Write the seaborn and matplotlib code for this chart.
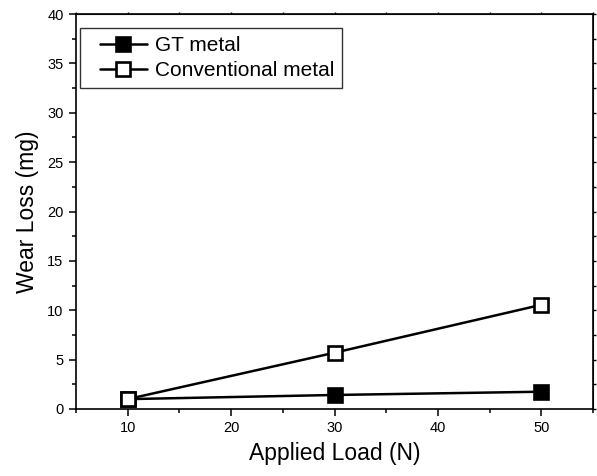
import matplotlib
matplotlib.use("Agg")
import matplotlib.pyplot as plt
import seaborn as sns
import pandas as pd
from matplotlib.lines import Line2D
from matplotlib.legend_handler import HandlerLine2D
from matplotlib.ticker import MultipleLocator

# ---- data ----
loads = [10, 30, 50]
gt_metal = [1.0, 1.42, 1.75]
conventional_metal = [1.0, 5.7, 10.55]
series_names = ["GT metal", "Conventional metal"]

sns.set_style("ticks")
plt.rcParams['font.family'] = ['Liberation Sans', 'DejaVu Sans']
plt.rcParams['text.color'] = 'black'
plt.rcParams['axes.labelcolor'] = 'black'
plt.rcParams['xtick.color'] = 'black'
plt.rcParams['ytick.color'] = 'black'

fig = plt.figure(figsize=(5.97, 4.76), dpi=100)
ax = fig.add_axes([76/597, 1 - 409/476, (593-76)/597, (409-14)/476])

df_gt = pd.DataFrame({"load": loads, "wear": gt_metal})
df_cv = pd.DataFrame({"load": loads, "wear": conventional_metal})

common = dict(marker="s", color="black", linewidth=1.8, markersize=10,
              markeredgecolor="black", markeredgewidth=1.9, ax=ax)
sns.lineplot(data=df_gt, x="load", y="wear", markerfacecolor="black",
             label=series_names[0], zorder=3, **common)
sns.lineplot(data=df_cv, x="load", y="wear", markerfacecolor="white",
             label=series_names[1], zorder=4, **common)

ax.set_xlim(5, 55)
ax.set_ylim(0, 40)
ax.xaxis.set_major_locator(MultipleLocator(10))
ax.xaxis.set_minor_locator(MultipleLocator(5))
ax.yaxis.set_major_locator(MultipleLocator(5))
ax.yaxis.set_minor_locator(MultipleLocator(2.5))

for s in ax.spines.values():
    s.set_visible(True)
    s.set_linewidth(1.2)
    s.set_color("black")

ax.tick_params(which="major", direction="out", length=5, width=1.1,
               labelsize=10.5, colors="black", pad=4)
ax.tick_params(which="minor", direction="out", length=3, width=1.1)

# small ticks on top and right
sx = ax.secondary_xaxis("top")
sx.xaxis.set_major_locator(MultipleLocator(5))
sx.tick_params(direction="out", length=1.8, width=1.0, labeltop=False)
sx.set_xticklabels([])
sy = ax.secondary_yaxis("right")
sy.yaxis.set_major_locator(MultipleLocator(2.5))
sy.tick_params(direction="out", length=1.8, width=1.0, labelright=False)
sy.set_yticklabels([])

ax.set_xlabel("Applied Load (N)", fontsize=16.5, labelpad=5)
ax.set_ylabel("Wear Loss (mg)", fontsize=16.5, labelpad=6)

handles, labels = ax.get_legend_handles_labels()
if ax.get_legend() is not None:
    ax.get_legend().remove()
leg = ax.legend(handles, labels, loc="upper left", bbox_to_anchor=(0.008, 0.964),
                borderaxespad=0, fontsize=15, frameon=True, fancybox=False,
                edgecolor="#333333", framealpha=1, borderpad=0.38,
                handlelength=2.85, handletextpad=0.34, labelspacing=0.3,
                handler_map={Line2D: HandlerLine2D(xpad=0.55)})
leg.get_frame().set_linewidth(1.0)

fig.savefig("out.png", dpi=100)
